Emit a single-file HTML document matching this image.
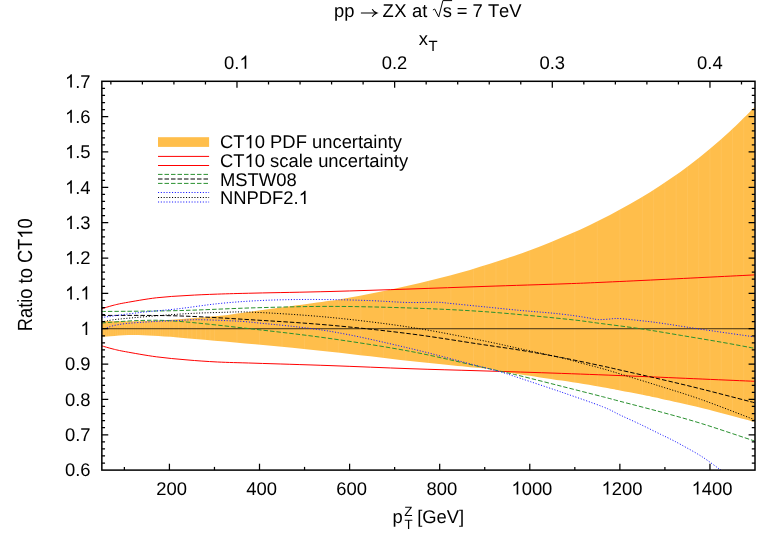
<!DOCTYPE html>
<html><head><meta charset="utf-8"><title>pp to ZX at sqrt(s) = 7 TeV</title>
<style>
html,body{margin:0;padding:0;background:#fff;}
body{width:783px;height:548px;overflow:hidden;}
svg{display:block;will-change:transform;}
text{font-family:"Liberation Sans",sans-serif;fill:#000;font-kerning:none;font-feature-settings:"kern" 0,"liga" 0;text-rendering:geometricPrecision;}
</style></head><body>
<svg width="783" height="548" viewBox="0 0 783 548">
<rect x="0" y="0" width="783" height="548" fill="#fff"/>
<defs><clipPath id="pc"><rect x="101.85" y="81.30" width="653.15" height="388.80"/></clipPath></defs>
<g clip-path="url(#pc)">
<path d="M101.50,321.00 C106.75,321.05 122.17,321.47 133.00,321.30 C143.83,321.13 152.40,320.88 166.50,320.00 C180.60,319.12 202.85,317.52 217.60,316.00 C232.35,314.48 242.60,312.57 255.00,310.90 C267.40,309.23 279.50,307.68 292.00,306.00 C304.50,304.32 320.33,302.23 330.00,300.80 C339.67,299.37 343.33,298.58 350.00,297.40 C356.67,296.22 363.33,294.98 370.00,293.70 C376.67,292.42 383.33,291.10 390.00,289.70 C396.67,288.30 403.33,286.82 410.00,285.30 C416.67,283.78 423.33,282.23 430.00,280.60 C436.67,278.97 443.33,277.28 450.00,275.50 C456.67,273.72 463.33,271.85 470.00,269.90 C476.67,267.95 483.33,265.90 490.00,263.80 C496.67,261.70 503.33,259.57 510.00,257.30 C516.67,255.03 523.33,252.67 530.00,250.20 C536.67,247.73 543.33,245.18 550.00,242.50 C556.67,239.82 563.33,237.03 570.00,234.10 C576.67,231.17 583.33,228.08 590.00,224.90 C596.67,221.72 603.33,218.47 610.00,215.00 C616.67,211.53 623.33,207.90 630.00,204.10 C636.67,200.30 643.33,196.37 650.00,192.20 C656.67,188.03 663.33,183.68 670.00,179.10 C676.67,174.52 683.33,169.75 690.00,164.70 C696.67,159.65 703.33,154.38 710.00,148.80 C716.67,143.22 723.33,137.38 730.00,131.20 C736.67,125.02 745.92,115.73 750.00,111.70 C754.08,107.67 753.75,107.78 754.50,107.00 L754.50,421.80 C745.70,419.48 717.30,411.75 701.70,407.90 C686.10,404.05 671.18,400.97 660.90,398.70 C650.62,396.43 646.82,395.68 640.00,394.30 C633.18,392.92 626.23,391.58 620.00,390.40 C613.77,389.22 612.32,388.83 602.60,387.20 C592.88,385.57 575.32,382.73 561.70,380.60 C548.08,378.47 531.12,375.97 520.90,374.40 C510.68,372.83 507.22,372.25 500.40,371.20 C493.58,370.15 495.07,369.82 480.00,368.10 C464.93,366.38 435.00,363.63 410.00,360.90 C385.00,358.17 355.83,354.47 330.00,351.70 C304.17,348.93 280.33,346.68 255.00,344.30 C229.67,341.92 198.20,338.95 178.00,337.40 C157.80,335.85 146.55,335.07 133.80,335.00 C121.05,334.93 106.88,336.67 101.50,337.00 Z" fill="#ffbe4b" stroke="none"/>
<clipPath id="bc"><path d="M101.50,321.00 C106.75,321.05 122.17,321.47 133.00,321.30 C143.83,321.13 152.40,320.88 166.50,320.00 C180.60,319.12 202.85,317.52 217.60,316.00 C232.35,314.48 242.60,312.57 255.00,310.90 C267.40,309.23 279.50,307.68 292.00,306.00 C304.50,304.32 320.33,302.23 330.00,300.80 C339.67,299.37 343.33,298.58 350.00,297.40 C356.67,296.22 363.33,294.98 370.00,293.70 C376.67,292.42 383.33,291.10 390.00,289.70 C396.67,288.30 403.33,286.82 410.00,285.30 C416.67,283.78 423.33,282.23 430.00,280.60 C436.67,278.97 443.33,277.28 450.00,275.50 C456.67,273.72 463.33,271.85 470.00,269.90 C476.67,267.95 483.33,265.90 490.00,263.80 C496.67,261.70 503.33,259.57 510.00,257.30 C516.67,255.03 523.33,252.67 530.00,250.20 C536.67,247.73 543.33,245.18 550.00,242.50 C556.67,239.82 563.33,237.03 570.00,234.10 C576.67,231.17 583.33,228.08 590.00,224.90 C596.67,221.72 603.33,218.47 610.00,215.00 C616.67,211.53 623.33,207.90 630.00,204.10 C636.67,200.30 643.33,196.37 650.00,192.20 C656.67,188.03 663.33,183.68 670.00,179.10 C676.67,174.52 683.33,169.75 690.00,164.70 C696.67,159.65 703.33,154.38 710.00,148.80 C716.67,143.22 723.33,137.38 730.00,131.20 C736.67,125.02 745.92,115.73 750.00,111.70 C754.08,107.67 753.75,107.78 754.50,107.00 L754.50,421.80 C745.70,419.48 717.30,411.75 701.70,407.90 C686.10,404.05 671.18,400.97 660.90,398.70 C650.62,396.43 646.82,395.68 640.00,394.30 C633.18,392.92 626.23,391.58 620.00,390.40 C613.77,389.22 612.32,388.83 602.60,387.20 C592.88,385.57 575.32,382.73 561.70,380.60 C548.08,378.47 531.12,375.97 520.90,374.40 C510.68,372.83 507.22,372.25 500.40,371.20 C493.58,370.15 495.07,369.82 480.00,368.10 C464.93,366.38 435.00,363.63 410.00,360.90 C385.00,358.17 355.83,354.47 330.00,351.70 C304.17,348.93 280.33,346.68 255.00,344.30 C229.67,341.92 198.20,338.95 178.00,337.40 C157.80,335.85 146.55,335.07 133.80,335.00 C121.05,334.93 106.88,336.67 101.50,337.00 Z"/></clipPath>
<path d="M104.10,81.3V470.1M106.35,81.3V470.1M108.61,81.3V470.1M110.86,81.3V470.1M113.11,81.3V470.1M115.36,81.3V470.1M117.62,81.3V470.1M119.87,81.3V470.1M122.12,81.3V470.1M124.37,81.3V470.1M126.62,81.3V470.1M128.88,81.3V470.1M131.13,81.3V470.1M133.38,81.3V470.1M135.63,81.3V470.1M137.89,81.3V470.1M140.14,81.3V470.1M142.39,81.3V470.1M144.64,81.3V470.1M146.89,81.3V470.1M149.15,81.3V470.1M151.40,81.3V470.1M153.65,81.3V470.1M155.90,81.3V470.1M158.16,81.3V470.1M160.41,81.3V470.1M162.66,81.3V470.1M164.91,81.3V470.1M167.16,81.3V470.1M169.42,81.3V470.1M173.92,81.3V470.1M178.43,81.3V470.1M182.93,81.3V470.1M187.44,81.3V470.1M191.94,81.3V470.1M196.44,81.3V470.1M200.95,81.3V470.1M205.45,81.3V470.1M209.96,81.3V470.1M214.46,81.3V470.1M236.98,81.3V470.1M259.51,81.3V470.1M282.03,81.3V470.1M304.55,81.3V470.1M327.07,81.3V470.1M338.34,81.3V470.1M360.86,81.3V470.1M383.38,81.3V470.1M405.90,81.3V470.1M428.42,81.3V470.1M450.95,81.3V470.1M473.47,81.3V470.1M484.73,81.3V470.1M495.99,81.3V470.1M507.25,81.3V470.1M529.78,81.3V470.1M552.30,81.3V470.1M574.82,81.3V470.1M597.34,81.3V470.1M619.87,81.3V470.1M642.39,81.3V470.1M653.65,81.3V470.1M664.91,81.3V470.1M676.17,81.3V470.1M687.43,81.3V470.1M698.69,81.3V470.1M709.96,81.3V470.1M721.22,81.3V470.1M732.48,81.3V470.1M743.74,81.3V470.1" clip-path="url(#bc)" stroke="#fff" stroke-width="0.6" stroke-opacity="0.12" fill="none"/>
<line x1="101.8" y1="328.72" x2="755.0" y2="328.72" stroke="#000" stroke-width="1" stroke-opacity="0.75"/>
<path d="M101.50,308.80 C103.42,308.23 108.98,306.42 113.00,305.40 C117.02,304.38 118.38,303.97 125.60,302.70 C132.82,301.43 146.07,299.00 156.30,297.80 C166.53,296.60 176.78,296.12 187.00,295.50 C197.22,294.88 206.27,294.50 217.60,294.10 C228.93,293.70 236.27,293.53 255.00,293.10 C273.73,292.67 304.17,292.18 330.00,291.50 C355.83,290.82 384.17,289.85 410.00,289.00 C435.83,288.15 459.17,287.27 485.00,286.40 C510.83,285.53 545.83,284.47 565.00,283.80 C584.17,283.13 584.17,283.10 600.00,282.40 C615.83,281.70 634.25,280.85 660.00,279.60 C685.75,278.35 738.75,275.68 754.50,274.90" fill="none" stroke="#ff0000" stroke-width="1.0"/>
<path d="M101.50,345.80 C103.42,346.33 108.98,348.02 113.00,349.00 C117.02,349.98 118.38,350.40 125.60,351.70 C132.82,353.00 146.07,355.43 156.30,356.80 C166.53,358.17 176.78,359.03 187.00,359.90 C197.22,360.77 206.27,361.45 217.60,362.00 C228.93,362.55 236.27,362.60 255.00,363.20 C273.73,363.80 304.17,364.68 330.00,365.60 C355.83,366.52 385.00,367.83 410.00,368.70 C435.00,369.57 454.72,370.02 480.00,370.80 C505.28,371.58 535.03,372.47 561.70,373.40 C588.37,374.33 607.87,375.08 640.00,376.40 C672.13,377.72 735.42,380.48 754.50,381.30" fill="none" stroke="#ff0000" stroke-width="1.0"/>
<path d="M101.50,311.50 C114.25,311.35 152.42,311.22 178.00,310.60 C203.58,309.98 229.67,308.50 255.00,307.80 C280.33,307.10 304.17,306.37 330.00,306.40 C355.83,306.43 384.17,307.12 410.00,308.00 C435.83,308.88 459.17,309.87 485.00,311.70 C510.83,313.53 545.83,317.05 565.00,319.00 C584.17,320.95 587.35,321.77 600.00,323.40 C612.65,325.03 627.28,326.78 640.90,328.80 C654.52,330.82 668.08,333.23 681.70,335.50 C695.32,337.77 710.47,340.27 722.60,342.40 C734.73,344.53 749.18,347.32 754.50,348.30" fill="none" stroke="#2a9130" stroke-width="1.0" stroke-dasharray="4.5 2"/>
<path d="M101.50,315.40 C114.25,315.48 152.42,315.13 178.00,315.90 C203.58,316.67 229.67,318.45 255.00,320.00 C280.33,321.55 304.17,322.90 330.00,325.20 C355.83,327.50 385.00,330.63 410.00,333.80 C435.00,336.97 461.52,341.45 480.00,344.20 C498.48,346.95 507.28,348.07 520.90,350.30 C534.52,352.53 548.08,354.97 561.70,357.60 C575.32,360.23 592.88,364.03 602.60,366.10 C612.32,368.17 610.28,367.80 620.00,370.00 C629.72,372.20 647.28,376.12 660.90,379.30 C674.52,382.48 686.10,385.20 701.70,389.10 C717.30,393.00 745.70,400.43 754.50,402.70" fill="none" stroke="#000" stroke-width="1.0" stroke-dasharray="4.5 2"/>
<path d="M101.50,323.00 C107.92,322.58 127.25,320.78 140.00,320.50 C152.75,320.22 158.83,319.83 178.00,321.30 C197.17,322.77 229.67,326.43 255.00,329.30 C280.33,332.17 304.17,334.83 330.00,338.50 C355.83,342.17 385.00,346.60 410.00,351.30 C435.00,356.00 464.93,363.37 480.00,366.70 C495.07,370.03 493.58,369.75 500.40,371.30 C507.22,372.85 510.68,373.50 520.90,376.00 C531.12,378.50 548.08,382.85 561.70,386.30 C575.32,389.75 592.88,394.20 602.60,396.70 C612.32,399.20 610.28,398.75 620.00,401.30 C629.72,403.85 647.28,408.28 660.90,412.00 C674.52,415.72 686.10,418.77 701.70,423.60 C717.30,428.43 745.70,438.10 754.50,441.00" fill="none" stroke="#2a9130" stroke-width="1.0" stroke-dasharray="4.5 2"/>
<path d="M101.50,317.50 C107.92,316.67 127.25,313.95 140.00,312.50 C152.75,311.05 165.07,310.27 178.00,308.80 C190.93,307.33 204.77,305.03 217.60,303.70 C230.43,302.37 242.60,301.48 255.00,300.80 C267.40,300.12 279.50,299.80 292.00,299.60 C304.50,299.40 317.00,299.43 330.00,299.60 C343.00,299.77 357.50,300.13 370.00,300.60 C382.50,301.07 395.83,302.10 405.00,302.40 C414.17,302.70 419.38,302.42 425.00,302.40 C430.62,302.38 434.20,302.10 438.70,302.30 C443.20,302.50 444.28,302.83 452.00,303.60 C459.72,304.37 473.67,305.77 485.00,306.90 C496.33,308.03 508.67,309.35 520.00,310.40 C531.33,311.45 543.83,312.30 553.00,313.20 C562.17,314.10 568.83,314.97 575.00,315.80 C581.17,316.63 586.12,317.57 590.00,318.20 C593.88,318.83 595.30,319.43 598.30,319.60 C601.30,319.77 604.65,319.38 608.00,319.20 C611.35,319.02 613.07,318.27 618.40,318.50 C623.73,318.73 632.85,319.82 640.00,320.60 C647.15,321.38 651.63,321.83 661.30,323.20 C670.97,324.57 682.47,326.52 698.00,328.80 C713.53,331.08 745.08,335.55 754.50,336.90" fill="none" stroke="#1a1aff" stroke-width="1.0" stroke-dasharray="1.1 1.7"/>
<path d="M101.50,322.00 C104.58,321.50 107.25,320.30 120.00,319.00 C132.75,317.70 161.73,315.28 178.00,314.20 C194.27,313.12 204.77,312.82 217.60,312.50 C230.43,312.18 236.27,311.48 255.00,312.30 C273.73,313.12 304.17,314.92 330.00,317.40 C355.83,319.88 385.00,323.42 410.00,327.20 C435.00,330.98 461.52,336.48 480.00,340.10 C498.48,343.72 507.28,345.93 520.90,348.90 C534.52,351.87 551.48,355.50 561.70,357.90 C571.92,360.30 575.38,361.50 582.20,363.30 C589.02,365.10 596.30,366.93 602.60,368.70 C608.90,370.47 610.28,370.93 620.00,373.90 C629.72,376.87 647.28,382.20 660.90,386.50 C674.52,390.80 686.10,394.17 701.70,399.70 C717.30,405.23 745.70,416.37 754.50,419.70" fill="none" stroke="#000" stroke-width="1.0" stroke-dasharray="1.1 1.7"/>
<path d="M101.50,329.60 C102.25,329.37 104.12,328.83 106.00,328.20 C107.88,327.57 109.55,326.57 112.80,325.80 C116.05,325.03 120.18,324.22 125.50,323.60 C130.82,322.98 139.07,322.48 144.70,322.10 C150.33,321.72 153.75,321.57 159.30,321.30 C164.85,321.03 171.68,320.77 178.00,320.50 C184.32,320.23 188.90,319.67 197.20,319.70 C205.50,319.73 218.17,320.22 227.80,320.70 C237.43,321.18 237.97,320.83 255.00,322.60 C272.03,324.37 304.17,327.00 330.00,331.30 C355.83,335.60 385.00,342.53 410.00,348.40 C435.00,354.27 464.93,362.60 480.00,366.50 C495.07,370.40 493.58,369.80 500.40,371.80 C507.22,373.80 510.68,375.10 520.90,378.50 C531.12,381.90 548.08,387.50 561.70,392.20 C575.32,396.90 592.88,402.90 602.60,406.70 C612.32,410.50 613.70,412.05 620.00,415.00 C626.30,417.95 633.58,421.15 640.40,424.40 C647.22,427.65 656.18,432.20 660.90,434.50 C665.62,436.80 665.30,436.48 668.70,438.20 C672.10,439.92 675.80,441.75 681.30,444.80 C686.80,447.85 695.23,452.37 701.70,456.50 C708.17,460.63 715.38,466.18 720.10,469.60 C724.82,473.02 728.35,475.77 730.00,477.00" fill="none" stroke="#1a1aff" stroke-width="1.0" stroke-dasharray="1.1 1.7"/>
</g>
<rect x="158.0" y="137.2" width="51.1" height="9.7" fill="#ffbe4b"/>
<line x1="158.0" y1="156.4" x2="209.1" y2="156.4" stroke="#ff0000" stroke-width="1"/>
<line x1="158.0" y1="165.5" x2="209.1" y2="165.5" stroke="#ff0000" stroke-width="1"/>
<line x1="158.0" y1="174.4" x2="209.1" y2="174.4" stroke="#2a9130" stroke-width="1" stroke-dasharray="4.5 2"/>
<line x1="158.0" y1="179.0" x2="209.1" y2="179.0" stroke="#000" stroke-width="1" stroke-dasharray="4.5 2"/>
<line x1="158.0" y1="183.4" x2="209.1" y2="183.4" stroke="#2a9130" stroke-width="1" stroke-dasharray="4.5 2"/>
<line x1="158.0" y1="192.5" x2="209.1" y2="192.5" stroke="#1a1aff" stroke-width="1" stroke-dasharray="1.1 1.7"/>
<line x1="158.0" y1="197.5" x2="209.1" y2="197.5" stroke="#000" stroke-width="1" stroke-dasharray="1.1 1.7"/>
<line x1="158.0" y1="202.0" x2="209.1" y2="202.0" stroke="#1a1aff" stroke-width="1" stroke-dasharray="1.1 1.7"/>
<g stroke="#000" stroke-width="1.5" fill="none" stroke-linecap="butt">
<rect x="101.85" y="81.30" width="653.15" height="388.80"/>
</g>
<g stroke="#000" stroke-width="1.25" fill="none" stroke-linecap="butt">
<path d="M101.85,463.03h3.2 M755.00,463.03h-3.2"/>
<path d="M101.85,455.96h3.2 M755.00,455.96h-3.2"/>
<path d="M101.85,448.89h3.2 M755.00,448.89h-3.2"/>
<path d="M101.85,441.82h3.2 M755.00,441.82h-3.2"/>
<path d="M101.85,434.75h6.4 M755.00,434.75h-6.4"/>
<path d="M101.85,427.69h3.2 M755.00,427.69h-3.2"/>
<path d="M101.85,420.62h3.2 M755.00,420.62h-3.2"/>
<path d="M101.85,413.55h3.2 M755.00,413.55h-3.2"/>
<path d="M101.85,406.48h3.2 M755.00,406.48h-3.2"/>
<path d="M101.85,399.41h6.4 M755.00,399.41h-6.4"/>
<path d="M101.85,392.34h3.2 M755.00,392.34h-3.2"/>
<path d="M101.85,385.27h3.2 M755.00,385.27h-3.2"/>
<path d="M101.85,378.20h3.2 M755.00,378.20h-3.2"/>
<path d="M101.85,371.13h3.2 M755.00,371.13h-3.2"/>
<path d="M101.85,364.06h6.4 M755.00,364.06h-6.4"/>
<path d="M101.85,356.99h3.2 M755.00,356.99h-3.2"/>
<path d="M101.85,349.93h3.2 M755.00,349.93h-3.2"/>
<path d="M101.85,342.86h3.2 M755.00,342.86h-3.2"/>
<path d="M101.85,335.79h3.2 M755.00,335.79h-3.2"/>
<path d="M101.85,328.72h6.4 M755.00,328.72h-6.4"/>
<path d="M101.85,321.65h3.2 M755.00,321.65h-3.2"/>
<path d="M101.85,314.58h3.2 M755.00,314.58h-3.2"/>
<path d="M101.85,307.51h3.2 M755.00,307.51h-3.2"/>
<path d="M101.85,300.44h3.2 M755.00,300.44h-3.2"/>
<path d="M101.85,293.37h6.4 M755.00,293.37h-6.4"/>
<path d="M101.85,286.30h3.2 M755.00,286.30h-3.2"/>
<path d="M101.85,279.23h3.2 M755.00,279.23h-3.2"/>
<path d="M101.85,272.17h3.2 M755.00,272.17h-3.2"/>
<path d="M101.85,265.10h3.2 M755.00,265.10h-3.2"/>
<path d="M101.85,258.03h6.4 M755.00,258.03h-6.4"/>
<path d="M101.85,250.96h3.2 M755.00,250.96h-3.2"/>
<path d="M101.85,243.89h3.2 M755.00,243.89h-3.2"/>
<path d="M101.85,236.82h3.2 M755.00,236.82h-3.2"/>
<path d="M101.85,229.75h3.2 M755.00,229.75h-3.2"/>
<path d="M101.85,222.68h6.4 M755.00,222.68h-6.4"/>
<path d="M101.85,215.61h3.2 M755.00,215.61h-3.2"/>
<path d="M101.85,208.54h3.2 M755.00,208.54h-3.2"/>
<path d="M101.85,201.47h3.2 M755.00,201.47h-3.2"/>
<path d="M101.85,194.41h3.2 M755.00,194.41h-3.2"/>
<path d="M101.85,187.34h6.4 M755.00,187.34h-6.4"/>
<path d="M101.85,180.27h3.2 M755.00,180.27h-3.2"/>
<path d="M101.85,173.20h3.2 M755.00,173.20h-3.2"/>
<path d="M101.85,166.13h3.2 M755.00,166.13h-3.2"/>
<path d="M101.85,159.06h3.2 M755.00,159.06h-3.2"/>
<path d="M101.85,151.99h6.4 M755.00,151.99h-6.4"/>
<path d="M101.85,144.92h3.2 M755.00,144.92h-3.2"/>
<path d="M101.85,137.85h3.2 M755.00,137.85h-3.2"/>
<path d="M101.85,130.78h3.2 M755.00,130.78h-3.2"/>
<path d="M101.85,123.71h3.2 M755.00,123.71h-3.2"/>
<path d="M101.85,116.65h6.4 M755.00,116.65h-6.4"/>
<path d="M101.85,109.58h3.2 M755.00,109.58h-3.2"/>
<path d="M101.85,102.51h3.2 M755.00,102.51h-3.2"/>
<path d="M101.85,95.44h3.2 M755.00,95.44h-3.2"/>
<path d="M101.85,88.37h3.2 M755.00,88.37h-3.2"/>
<path d="M124.37,470.10v-3.2"/>
<path d="M169.42,470.10v-6.4"/>
<path d="M214.46,470.10v-3.2"/>
<path d="M259.51,470.10v-6.4"/>
<path d="M304.55,470.10v-3.2"/>
<path d="M349.60,470.10v-6.4"/>
<path d="M394.64,470.10v-3.2"/>
<path d="M439.69,470.10v-6.4"/>
<path d="M484.73,470.10v-3.2"/>
<path d="M529.78,470.10v-6.4"/>
<path d="M574.82,470.10v-3.2"/>
<path d="M619.87,470.10v-6.4"/>
<path d="M664.91,470.10v-3.2"/>
<path d="M709.96,470.10v-6.4"/>
<path d="M110.86,81.30v3.2"/>
<path d="M142.39,81.30v3.2"/>
<path d="M173.92,81.30v3.2"/>
<path d="M205.45,81.30v3.2"/>
<path d="M236.98,81.30v6.4"/>
<path d="M268.52,81.30v3.2"/>
<path d="M300.05,81.30v3.2"/>
<path d="M331.58,81.30v3.2"/>
<path d="M363.11,81.30v3.2"/>
<path d="M394.64,81.30v6.4"/>
<path d="M426.17,81.30v3.2"/>
<path d="M457.70,81.30v3.2"/>
<path d="M489.24,81.30v3.2"/>
<path d="M520.77,81.30v3.2"/>
<path d="M552.30,81.30v6.4"/>
<path d="M583.83,81.30v3.2"/>
<path d="M615.36,81.30v3.2"/>
<path d="M646.89,81.30v3.2"/>
<path d="M678.42,81.30v3.2"/>
<path d="M709.96,81.30v6.4"/>
<path d="M741.49,81.30v3.2"/>
</g>
<g transform="translate(90.60,476.30) scale(1.000,1)" font-size="18.4">
<text x="-25.58" y="0">0.6</text>
</g>
<g transform="translate(90.60,440.95) scale(1.000,1)" font-size="18.4">
<text x="-25.58" y="0">0.7</text>
</g>
<g transform="translate(90.60,405.61) scale(1.000,1)" font-size="18.4">
<text x="-25.58" y="0">0.8</text>
</g>
<g transform="translate(90.60,370.26) scale(1.000,1)" font-size="18.4">
<text x="-25.58" y="0">0.9</text>
</g>
<g transform="translate(90.60,334.92) scale(1.000,1)" font-size="18.4">
<path transform="translate(-10.23,0) scale(0.00898,-0.00898)" d="M763,0H583V1147Q518,1085 412.5,1023T223,930V1104Q374,1175 487,1276T647,1472H763Z" fill="#000"/>
</g>
<g transform="translate(90.60,299.57) scale(1.000,1)" font-size="18.4">
<path transform="translate(-25.58,0) scale(0.00898,-0.00898)" d="M763,0H583V1147Q518,1085 412.5,1023T223,930V1104Q374,1175 487,1276T647,1472H763Z" fill="#000"/>
<text x="-15.35" y="0">.</text>
<path transform="translate(-10.23,0) scale(0.00898,-0.00898)" d="M763,0H583V1147Q518,1085 412.5,1023T223,930V1104Q374,1175 487,1276T647,1472H763Z" fill="#000"/>
</g>
<g transform="translate(90.60,264.23) scale(1.000,1)" font-size="18.4">
<path transform="translate(-25.58,0) scale(0.00898,-0.00898)" d="M763,0H583V1147Q518,1085 412.5,1023T223,930V1104Q374,1175 487,1276T647,1472H763Z" fill="#000"/>
<text x="-15.35" y="0">.2</text>
</g>
<g transform="translate(90.60,228.88) scale(1.000,1)" font-size="18.4">
<path transform="translate(-25.58,0) scale(0.00898,-0.00898)" d="M763,0H583V1147Q518,1085 412.5,1023T223,930V1104Q374,1175 487,1276T647,1472H763Z" fill="#000"/>
<text x="-15.35" y="0">.3</text>
</g>
<g transform="translate(90.60,193.54) scale(1.000,1)" font-size="18.4">
<path transform="translate(-25.58,0) scale(0.00898,-0.00898)" d="M763,0H583V1147Q518,1085 412.5,1023T223,930V1104Q374,1175 487,1276T647,1472H763Z" fill="#000"/>
<text x="-15.35" y="0">.4</text>
</g>
<g transform="translate(90.60,158.19) scale(1.000,1)" font-size="18.4">
<path transform="translate(-25.58,0) scale(0.00898,-0.00898)" d="M763,0H583V1147Q518,1085 412.5,1023T223,930V1104Q374,1175 487,1276T647,1472H763Z" fill="#000"/>
<text x="-15.35" y="0">.5</text>
</g>
<g transform="translate(90.60,122.85) scale(1.000,1)" font-size="18.4">
<path transform="translate(-25.58,0) scale(0.00898,-0.00898)" d="M763,0H583V1147Q518,1085 412.5,1023T223,930V1104Q374,1175 487,1276T647,1472H763Z" fill="#000"/>
<text x="-15.35" y="0">.6</text>
</g>
<g transform="translate(90.60,87.50) scale(1.000,1)" font-size="18.4">
<path transform="translate(-25.58,0) scale(0.00898,-0.00898)" d="M763,0H583V1147Q518,1085 412.5,1023T223,930V1104Q374,1175 487,1276T647,1472H763Z" fill="#000"/>
<text x="-15.35" y="0">.7</text>
</g>
<g transform="translate(171.52,494.60) scale(1.000,1)" font-size="18.4">
<text x="-15.35" y="0">200</text>
</g>
<g transform="translate(261.61,494.60) scale(1.000,1)" font-size="18.4">
<text x="-15.35" y="0">400</text>
</g>
<g transform="translate(351.70,494.60) scale(1.000,1)" font-size="18.4">
<text x="-15.35" y="0">600</text>
</g>
<g transform="translate(441.79,494.60) scale(1.000,1)" font-size="18.4">
<text x="-15.35" y="0">800</text>
</g>
<g transform="translate(531.88,494.60) scale(1.000,1)" font-size="18.4">
<path transform="translate(-20.47,0) scale(0.00898,-0.00898)" d="M763,0H583V1147Q518,1085 412.5,1023T223,930V1104Q374,1175 487,1276T647,1472H763Z" fill="#000"/>
<text x="-10.23" y="0">000</text>
</g>
<g transform="translate(621.97,494.60) scale(1.000,1)" font-size="18.4">
<path transform="translate(-20.47,0) scale(0.00898,-0.00898)" d="M763,0H583V1147Q518,1085 412.5,1023T223,930V1104Q374,1175 487,1276T647,1472H763Z" fill="#000"/>
<text x="-10.23" y="0">200</text>
</g>
<g transform="translate(712.06,494.60) scale(1.000,1)" font-size="18.4">
<path transform="translate(-20.47,0) scale(0.00898,-0.00898)" d="M763,0H583V1147Q518,1085 412.5,1023T223,930V1104Q374,1175 487,1276T647,1472H763Z" fill="#000"/>
<text x="-10.23" y="0">400</text>
</g>
<g transform="translate(236.88,68.80) scale(1.000,1)" font-size="18.4">
<text x="-12.79" y="0">0.</text>
<path transform="translate(2.56,0) scale(0.00898,-0.00898)" d="M763,0H583V1147Q518,1085 412.5,1023T223,930V1104Q374,1175 487,1276T647,1472H763Z" fill="#000"/>
</g>
<g transform="translate(394.54,68.80) scale(1.000,1)" font-size="18.4">
<text x="-12.79" y="0">0.2</text>
</g>
<g transform="translate(552.20,68.80) scale(1.000,1)" font-size="18.4">
<text x="-12.79" y="0">0.3</text>
</g>
<g transform="translate(709.86,68.80) scale(1.000,1)" font-size="18.4">
<text x="-12.79" y="0">0.4</text>
</g>
<text transform="translate(334.10,17.4) scale(1.000,1)" font-size="18.4">pp</text>
<path d="M360.9,13.0H376.6 M372.2,9.2Q373.6,11.8 377.0,13.0Q373.6,14.2 372.2,16.8" stroke="#000" stroke-width="1.15" fill="none"/>
<text transform="translate(382.50,17.4) scale(1.000,1)" font-size="18.4">Z</text>
<text transform="translate(394.30,17.4) scale(1.000,1)" font-size="18.4">X</text>
<text transform="translate(412.00,17.4) scale(1.000,1)" font-size="18.4">at</text>
<path d="M432.9,10.0L434.7,9.0L438.7,17.0L442.9,0.6H452.1" stroke="#000" stroke-width="1" fill="none" stroke-linejoin="miter"/>
<text transform="translate(442.80,17.4) scale(1.000,1)" font-size="18.4">s</text>
<text transform="translate(456.70,17.4) scale(1.000,1)" font-size="18.4">= 7 TeV</text>
<g transform="translate(418.70,45.00) scale(1.000,1)" font-size="18.4">
<text x="0.00" y="0">x</text>
</g>
<g transform="translate(428.60,50.70) scale(1.000,1)" font-size="14.9">
<text x="0.00" y="0">T</text>
</g>
<g transform="translate(392.40,523.20) scale(1.000,1)" font-size="18.4">
<text x="0.00" y="0">p</text>
</g>
<g transform="translate(404.20,515.60) scale(1.000,1)" font-size="13.4">
<text x="0.00" y="0">Z</text>
</g>
<g transform="translate(404.40,528.60) scale(1.000,1)" font-size="13.4">
<text x="0.00" y="0">T</text>
</g>
<g transform="translate(417.20,523.20) scale(1.000,1)" font-size="18.4">
<text x="0.00" y="0">[GeV]</text>
</g>
<g transform="translate(32.3,331.2) rotate(-90) scale(1,1.12)" font-size="18.3">
<text x="0.00" y="0">Ratio to CT</text>
<path transform="translate(92.55,0) scale(0.00894,-0.00894)" d="M763,0H583V1147Q518,1085 412.5,1023T223,930V1104Q374,1175 487,1276T647,1472H763Z" fill="#000"/>
<text x="102.72" y="0">0</text>
</g>
<g transform="translate(220.00,148.20) scale(1.000,1)" font-size="18.4">
<text x="0.00" y="0">CT</text>
<path transform="translate(24.53,0) scale(0.00898,-0.00898)" d="M763,0H583V1147Q518,1085 412.5,1023T223,930V1104Q374,1175 487,1276T647,1472H763Z" fill="#000"/>
<text x="34.76" y="0">0 PDF uncertainty</text>
</g>
<g transform="translate(220.00,167.00) scale(1.000,1)" font-size="18.4">
<text x="0.00" y="0">CT</text>
<path transform="translate(24.53,0) scale(0.00898,-0.00898)" d="M763,0H583V1147Q518,1085 412.5,1023T223,930V1104Q374,1175 487,1276T647,1472H763Z" fill="#000"/>
<text x="34.76" y="0">0 scale uncertainty</text>
</g>
<g transform="translate(220.00,185.50) scale(1.000,1)" font-size="18.4">
<text x="0.00" y="0">MSTW08</text>
</g>
<g transform="translate(220.00,204.00) scale(1.000,1)" font-size="18.4">
<text x="0.00" y="0">NNPDF2.</text>
<path transform="translate(78.72,0) scale(0.00898,-0.00898)" d="M763,0H583V1147Q518,1085 412.5,1023T223,930V1104Q374,1175 487,1276T647,1472H763Z" fill="#000"/>
</g>
</svg></body></html>
